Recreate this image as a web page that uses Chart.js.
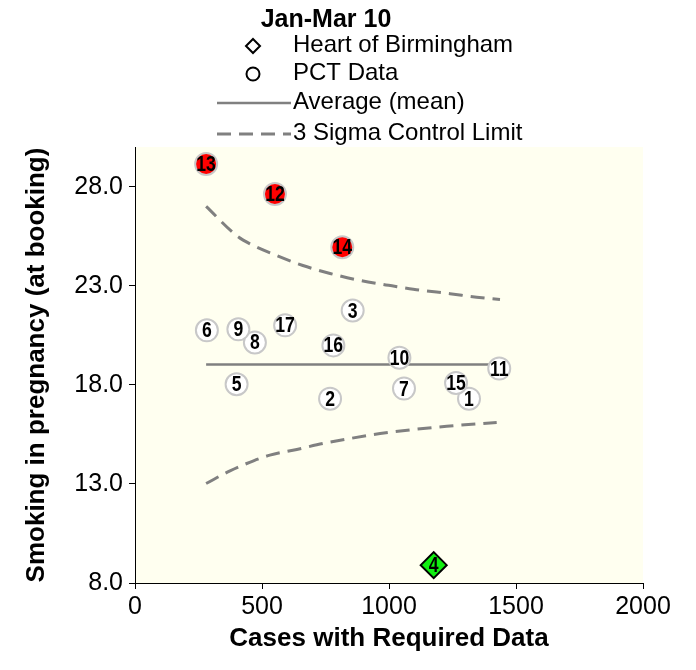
<!DOCTYPE html>
<html>
<head>
<meta charset="utf-8">
<script src="https://cdn.jsdelivr.net/npm/chart.js@4"></script>
<style>
  html, body { margin: 0; padding: 0; background: #fff; }
  #wrap { width: 696px; height: 670px; }
</style>
</head>
<body>
<div id="wrap"><canvas id="c" width="696" height="670"></canvas></div>
<script>
// PCT points (id, cases, % smoking)
const pctIds = [1, 2, 3, 5, 6, 7, 8, 9, 10, 11, 12, 13, 14, 15, 16, 17];
const pctX = [1315, 768, 857, 400, 283, 1059, 472, 407, 1041, 1434, 551, 280, 816, 1264, 781, 591];
const pctY = [17.3, 17.3, 21.75, 18.03, 20.75, 17.81, 20.14, 20.8, 19.37, 18.82, 27.63, 29.14, 24.94, 18.09, 19.99, 21.0];
const outliers = [12, 13, 14];

// Heart of Birmingham
const hobId = [4];
const hobX = [1176];
const hobY = [8.9];

// average line
const meanX = [280, 1434];
const meanY = [19.03, 19.03];

// 3 sigma limits
const upperX = [280, 400, 453, 558, 661, 768, 873, 977, 1043, 1122, 1240, 1345, 1437];
const upperY = [27.0, 25.53, 25.11, 24.52, 24.02, 23.62, 23.3, 23.06, 22.93, 22.78, 22.6, 22.42, 22.3];
const lowerX = [280, 374, 440, 531, 637, 741, 846, 965, 1094, 1227, 1424];
const lowerY = [13.02, 13.66, 14.03, 14.45, 14.74, 15.04, 15.29, 15.54, 15.74, 15.91, 16.1];

const xTicks = [0, 500, 1000, 1500, 2000];
const yTicks = [8, 13, 18, 23, 28];

const FONT = "'Liberation Sans', Arial, sans-serif";
const GREY = '#808080';

function pts(xs, ys) {
  return xs.map((x, i) => ({ x: x, y: ys[i] }));
}

const plotBg = {
  id: 'plotBg',
  beforeDraw(chart) {
    const { ctx, chartArea: a } = chart;
    ctx.save();
    ctx.fillStyle = '#FFFFF0';
    ctx.fillRect(a.left, a.top, a.right - a.left, a.bottom - a.top);
    ctx.restore();
  }
};

// numbers inside the markers
const pointLabels = {
  id: 'pointLabels',
  afterDatasetsDraw(chart) {
    const ctx = chart.ctx;
    ctx.save();
    ctx.fillStyle = '#000';
    ctx.font = 'bold 22px ' + FONT;
    ctx.textAlign = 'center';
    ctx.textBaseline = 'middle';
    [[0, pctIds], [1, hobId]].forEach(([di, ids]) => {
      chart.getDatasetMeta(di).data.forEach((el, i) => {
        ctx.save();
        ctx.translate(el.x, el.y + 1);
        ctx.scale(0.8, 1);
        ctx.fillText(String(ids[i]), 0, 0);
        ctx.restore();
      });
    });
    ctx.restore();
  }
};

// title + legend block above the plot
const legendBlock = {
  id: 'legendBlock',
  afterDraw(chart) {
    const ctx = chart.ctx;
    ctx.save();
    ctx.fillStyle = '#000';
    ctx.textBaseline = 'middle';
    ctx.font = 'bold 25px ' + FONT;
    ctx.textAlign = 'center';
    ctx.fillText('Jan-Mar 10', 326, 20);

    ctx.font = '24px ' + FONT;
    ctx.textAlign = 'left';
    const tx = 293;

    // diamond
    ctx.strokeStyle = '#000';
    ctx.lineWidth = 2;
    ctx.beginPath();
    ctx.moveTo(253, 39); ctx.lineTo(260, 46); ctx.lineTo(253, 53); ctx.lineTo(246, 46);
    ctx.closePath();
    ctx.stroke();
    ctx.fillText('Heart of Birmingham', tx, 45);

    // circle
    ctx.beginPath();
    ctx.arc(253, 74, 6.5, 0, Math.PI * 2);
    ctx.stroke();
    ctx.fillText('PCT Data', tx, 73);

    // solid line
    ctx.strokeStyle = GREY;
    ctx.lineWidth = 2.5;
    ctx.beginPath();
    ctx.moveTo(217, 103); ctx.lineTo(291, 103);
    ctx.stroke();
    ctx.fillText('Average (mean)', tx, 102);

    // dashed line
    ctx.lineWidth = 3;
    ctx.setLineDash([14, 8]);
    ctx.beginPath();
    ctx.moveTo(217, 134); ctx.lineTo(291, 134);
    ctx.stroke();
    ctx.setLineDash([]);
    ctx.fillText('3 Sigma Control Limit', tx, 133);
    ctx.restore();
  }
};

const ctx = document.getElementById('c').getContext('2d');

new Chart(ctx, {
  type: 'scatter',
  data: {
    datasets: [
      {
        label: 'PCT Data',
        data: pts(pctX, pctY),
        pointRadius: 11,
        pointHoverRadius: 11,
        backgroundColor: pctIds.map(id => outliers.includes(id) ? '#FF0000' : '#FFFFFF'),
        borderColor: '#C8C8C8',
        borderWidth: 2
      },
      {
        label: 'Heart of Birmingham',
        data: pts(hobX, hobY),
        pointStyle: 'rectRot',
        pointRadius: 13,
        pointHoverRadius: 13,
        backgroundColor: '#11EE11',
        borderColor: '#000',
        borderWidth: 2
      },
      {
        label: 'Average (mean)',
        data: pts(meanX, meanY),
        showLine: true,
        pointRadius: 0,
        borderColor: GREY,
        borderWidth: 2.5
      },
      {
        label: '3 Sigma Control Limit',
        data: pts(upperX, upperY),
        showLine: true,
        pointRadius: 0,
        borderColor: GREY,
        borderWidth: 3,
        borderDash: [14, 8],
        cubicInterpolationMode: 'monotone'
      },
      {
        label: 'lower',
        data: pts(lowerX, lowerY),
        showLine: true,
        pointRadius: 0,
        borderColor: GREY,
        borderWidth: 3,
        borderDash: [14, 8],
        cubicInterpolationMode: 'monotone'
      }
    ]
  },
  options: {
    responsive: false,
    animation: false,
    layout: { padding: { left: 0, right: 53, top: 147, bottom: 0 } },
    plugins: {
      legend: { display: false },
      title: { display: false },
      tooltip: { enabled: false }
    },
    scales: {
      x: {
        type: 'linear',
        min: 0,
        max: 2000,
        afterFit: s => { s.height = 87; },
        afterBuildTicks: s => { s.ticks = xTicks.map(v => ({ value: v })); },
        grid: { drawOnChartArea: false, drawTicks: true, tickLength: 6, color: '#000' },
        border: { display: true, color: '#000', width: 1 },
        ticks: {
          color: '#000',
          font: { family: FONT, size: 25 },
          padding: 3,
          maxRotation: 0,
          callback: v => String(v)
        },
        title: {
          display: true,
          text: 'Cases with Required Data',
          color: '#000',
          font: { family: FONT, size: 26, weight: 'bold' },
          padding: { top: 0, bottom: 16 }
        }
      },
      y: {
        type: 'linear',
        min: 8,
        max: 30,
        afterFit: s => { s.width = 135; },
        afterBuildTicks: s => { s.ticks = yTicks.map(v => ({ value: v })); },
        grid: { drawOnChartArea: false, drawTicks: true, tickLength: 6, color: '#000' },
        border: { display: true, color: '#000', width: 1 },
        ticks: {
          color: '#000',
          font: { family: FONT, size: 25 },
          padding: 6,
          callback: v => Number(v).toFixed(1)
        },
        title: {
          display: true,
          text: 'Smoking in pregnancy (at booking)',
          color: '#000',
          font: { family: FONT, size: 26, weight: 'bold' },
          padding: { top: 21, bottom: 0 }
        }
      }
    }
  },
  plugins: [plotBg, pointLabels, legendBlock]
});
</script>
</body>
</html>
